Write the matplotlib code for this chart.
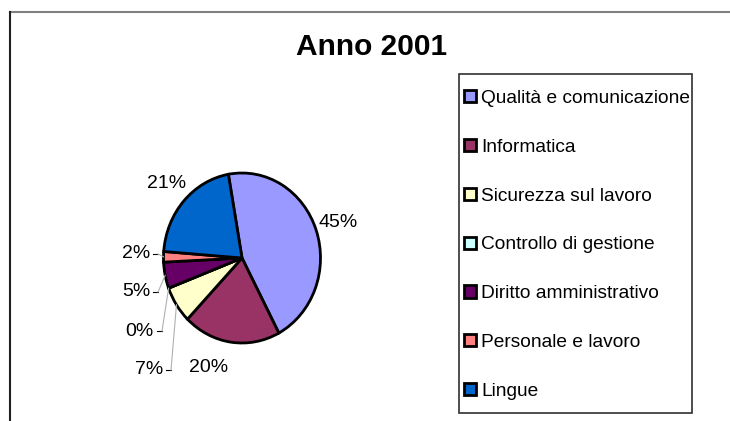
import matplotlib
matplotlib.use("Agg")
import matplotlib.pyplot as plt
from matplotlib.lines import Line2D
from matplotlib.patches import Rectangle
import numpy as np

plt.rcParams['font.family'] = ['Liberation Sans', 'DejaVu Sans']

# data
categories = ['Qualità e comunicazione', 'Informatica', 'Sicurezza sul lavoro',
              'Controllo di gestione', 'Diritto amministrativo',
              'Personale e lavoro', 'Lingue']
values = [45, 20, 7, 0, 5, 2, 21]
colors = ['#9999FF', '#993366', '#FFFFCC', '#CCFFFF', '#660066', '#FF8080', '#0066CC']

W, H = 730, 421
fig = plt.figure(figsize=(W / 100, H / 100), dpi=100)

# pie geometry in pixels (slightly taller than wide, like the original)
CX, CY = 242, 258
RX, RY = 78.5, 85.0


def px(x, y):
    # pixel (from top-left) -> pie axes data coords
    return (x - CX) / RX, (CY - y) / RY


ax = fig.add_axes([0, 0, 1, 1])
wedges, _ = ax.pie(values, colors=colors, startangle=100, counterclock=False,
                   wedgeprops=dict(edgecolor='black', linewidth=2.0))
ax.set_xlim(-CX / RX, (W - CX) / RX)
ax.set_ylim(-(H - CY) / RY, CY / RY)
ax.set_aspect('auto')
ax.axis('off')

# percentage labels
total = sum(values)
cum = np.cumsum([0] + values)
mid_angles = [100 - 360 * (cum[i] + values[i] / 2) / total for i in range(len(values))]
pct = [f"{round(100 * v / total)}%" for v in values]

# small slices get labels on the left with leader lines (right edge x, centre y)
small_label_px = {5: (150, 254), 4: (150, 292), 3: (154, 331), 2: (163, 370)}

for i, a in enumerate(mid_angles):
    t = np.deg2rad(a)
    if i in small_label_px:
        lx, ly = small_label_px[i]
        ax.text(*px(lx, ly), pct[i], ha='right', va='center', fontsize=14)
        ax.plot(*zip(px(lx + 3, ly), px(lx + 8, ly)), color='black', lw=0.8)
        ex, ey = np.cos(t), np.sin(t)
        ax.plot([px(lx + 8, ly)[0], ex], [px(lx + 8, ly)[1], ey],
                color='#b0b0b0', lw=0.8)
    else:
        r = 1.3
        ha = 'right' if (np.cos(t) < 0 and np.sin(t) < 0) else 'center'
        ax.text(r * np.cos(t), r * np.sin(t), pct[i], ha=ha, va='center',
                fontsize=14)

# title
fig.text(372 / W, 1 - 47 / H, 'Anno 2001', ha='center', va='center',
         fontsize=21.5, fontweight='bold')

# outer chart frame (top and left edges visible)
fig.add_artist(Line2D([10 / W, 1], [1 - 12 / H, 1 - 12 / H], color='#808080', lw=1.5))
fig.add_artist(Line2D([10 / W, 10 / W], [0, 1 - 12 / H], color='#202020', lw=1.5))

# legend box
fig.add_artist(Rectangle((459 / W, 1 - 413 / H), (692 - 459) / W, (413 - 74) / H,
                         transform=fig.transFigure, facecolor='white',
                         edgecolor='#303030', lw=1.2, zorder=1))
leg = fig.legend(wedges, categories, loc='upper left',
                 bbox_to_anchor=(464 / W, 1 - 90 / H), frameon=False,
                 borderpad=0, borderaxespad=0, fontsize=13.8,
                 handlelength=0.6, handleheight=0.6, handletextpad=0.3,
                 labelspacing=1.66)
leg.set_zorder(2)

fig.savefig('out.png', dpi=100)
